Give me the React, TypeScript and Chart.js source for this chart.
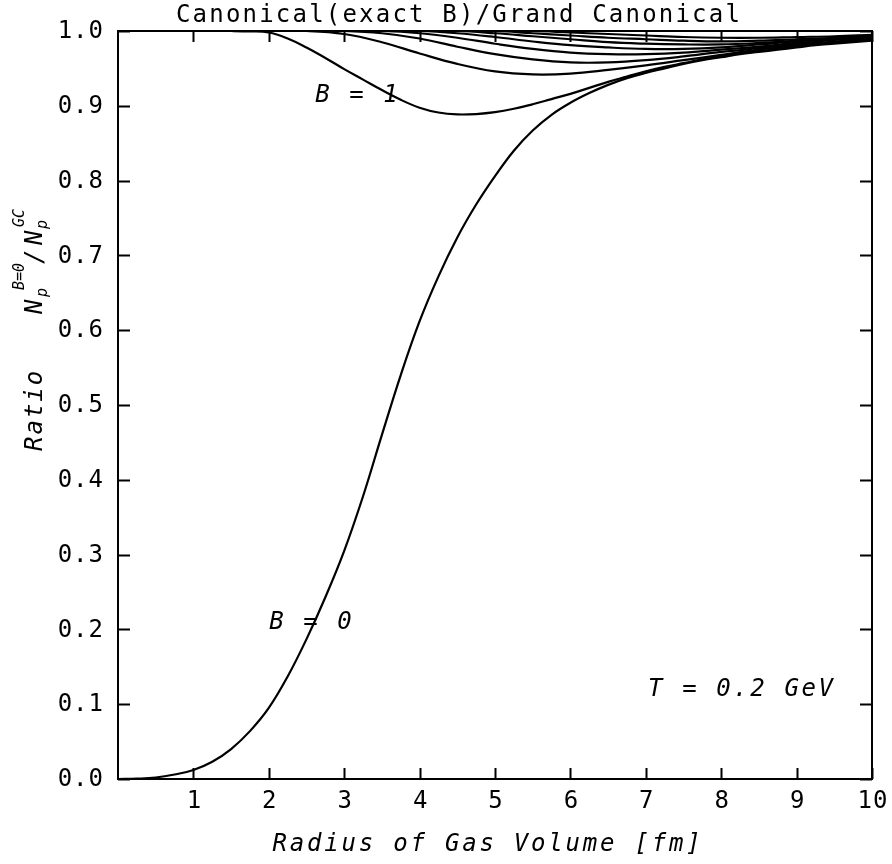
import React, { useEffect, useRef } from "react";
import { Chart, registerables } from "chart.js";

Chart.register(...registerables);

// ---- data ----
const radius = [0, 0.5, 1, 1.5, 2, 2.5, 3, 3.5, 4, 4.5, 5, 5.5, 6, 6.5, 7, 7.5, 8, 8.5, 9, 9.5, 10];
const radiusFine = [
  0, 0.25, 0.5, 0.75, 1, 1.25, 1.5, 1.75, 2, 2.25, 2.5, 2.75, 3, 3.25, 3.5, 3.75, 4, 4.25, 4.5, 4.75,
  5, 5.25, 5.5, 5.75, 6, 6.25, 6.5, 6.75, 7, 7.25, 7.5, 7.75, 8, 8.25, 8.5, 8.75, 9, 9.25, 9.5, 9.75, 10,
];

const ratioB0 = [
  0, 0.0005, 0.002, 0.006, 0.012, 0.023, 0.04, 0.064, 0.095, 0.137, 0.187, 0.243, 0.305, 0.378, 0.46, 0.54, 0.612, 0.672, 0.724, 0.768,
  0.806, 0.84, 0.867, 0.888, 0.904, 0.917, 0.928, 0.937, 0.944, 0.95, 0.956, 0.961, 0.965, 0.969, 0.972, 0.975, 0.978, 0.981, 0.983, 0.985, 0.987,
];
const ratioB1 = [
  1, 1, 1, 1, 1, 1, 1, 0.9995, 0.998, 0.99, 0.978, 0.964, 0.949, 0.935, 0.921, 0.908, 0.8975, 0.891, 0.8885, 0.889,
  0.8915, 0.896, 0.902, 0.909, 0.916, 0.924, 0.932, 0.939, 0.946, 0.952, 0.957, 0.962, 0.966, 0.97, 0.973, 0.976, 0.979, 0.982, 0.984, 0.986, 0.988,
];
const ratioB2 = [1, 1, 1, 1, 1, 1, 0.996, 0.985, 0.97, 0.956, 0.946, 0.942, 0.943, 0.948, 0.954, 0.961, 0.968, 0.975, 0.98, 0.985, 0.989];
const ratioB3 = [1, 1, 1, 1, 1, 1, 1, 0.997, 0.99, 0.979, 0.969, 0.962, 0.958, 0.958, 0.961, 0.966, 0.972, 0.977, 0.982, 0.986, 0.99];
const ratioB4 = [1, 1, 1, 1, 1, 1, 1, 1, 0.997, 0.991, 0.983, 0.976, 0.971, 0.969, 0.969, 0.971, 0.975, 0.979, 0.984, 0.988, 0.991];
const ratioB5 = [1, 1, 1, 1, 1, 1, 1, 1, 1, 0.997, 0.992, 0.986, 0.981, 0.978, 0.976, 0.976, 0.978, 0.982, 0.986, 0.989, 0.992];
const ratioB6 = [1, 1, 1, 1, 1, 1, 1, 1, 1, 1, 0.997, 0.993, 0.989, 0.985, 0.983, 0.982, 0.982, 0.984, 0.987, 0.99, 0.993];
const ratioB7 = [1, 1, 1, 1, 1, 1, 1, 1, 1, 1, 1, 0.997, 0.994, 0.991, 0.989, 0.987, 0.986, 0.987, 0.989, 0.991, 0.994];
const ratioB8 = [1, 1, 1, 1, 1, 1, 1, 1, 1, 1, 1, 1, 0.998, 0.996, 0.994, 0.992, 0.991, 0.991, 0.992, 0.993, 0.995];

const seriesList: [number[], number[]][] = [
  [radiusFine, ratioB0],
  [radiusFine, ratioB1],
  [radius, ratioB2],
  [radius, ratioB3],
  [radius, ratioB4],
  [radius, ratioB5],
  [radius, ratioB6],
  [radius, ratioB7],
  [radius, ratioB8],
];

const xTickValues = [1, 2, 3, 4, 5, 6, 7, 8, 9, 10];
const yTickValues = [0, 0.1, 0.2, 0.3, 0.4, 0.5, 0.6, 0.7, 0.8, 0.9, 1.0];
const yTickLabels = ["0.0", "0.1", "0.2", "0.3", "0.4", "0.5", "0.6", "0.7", "0.8", "0.9", "1.0"];

const titleText = "Canonical(exact B)/Grand Canonical";
const xTitleText = "Radius of Gas Volume [fm]";
const yTitleWord = "Ratio";

// annotations: [text, x value, y value, align]
const annotations: [string, number, number, CanvasTextAlign][] = [
  ["B = 1", 3.18, 0.914, "center"],
  ["B = 0", 2.57, 0.209, "center"],
  ["T = 0.2 GeV", 7.03, 0.119, "left"],
];

const MONO = '"DejaVu Sans Mono", monospace';

const framePlugin = {
  id: "framePlugin",
  afterDraw(chart: any) {
    const ctx: CanvasRenderingContext2D = chart.ctx;
    const a = chart.chartArea;
    const xs = chart.scales.x;
    const ys = chart.scales.y;
    ctx.save();
    ctx.strokeStyle = "#000";
    ctx.fillStyle = "#000";
    ctx.lineWidth = 2;
    ctx.strokeRect(a.left, a.top, a.right - a.left, a.bottom - a.top);

    ctx.beginPath();
    for (const v of xTickValues) {
      const px = Math.round(xs.getPixelForValue(v)) + 0.5;
      ctx.moveTo(px, a.bottom);
      ctx.lineTo(px, a.bottom - 11);
      ctx.moveTo(px, a.top);
      ctx.lineTo(px, a.top + 11);
    }
    for (const v of yTickValues) {
      const py = Math.round(ys.getPixelForValue(v)) + 0.5;
      ctx.moveTo(a.left, py);
      ctx.lineTo(a.left + 12, py);
      ctx.moveTo(a.right, py);
      ctx.lineTo(a.right - 12, py);
    }
    ctx.stroke();

    // tick labels
    (ctx as any).letterSpacing = "1px";
    ctx.font = `24px ${MONO}`;
    ctx.textBaseline = "middle";
    ctx.textAlign = "right";
    yTickValues.forEach((v, i) => {
      ctx.fillText(yTickLabels[i], a.left - 14, ys.getPixelForValue(v) + 1);
    });
    ctx.textAlign = "center";
    xTickValues.forEach((v) => {
      ctx.fillText(String(v), xs.getPixelForValue(v) + 1, a.bottom + 23);
    });

    // title
    (ctx as any).letterSpacing = "2.2px";
    ctx.textBaseline = "alphabetic";
    ctx.textAlign = "center";
    ctx.fillText(titleText, 459, 22);

    // x title
    ctx.font = `italic 24px ${MONO}`;
    (ctx as any).letterSpacing = "2.8px";
    ctx.fillText(xTitleText, 488, 851);

    // annotations
    (ctx as any).letterSpacing = "2.6px";
    for (const [t, vx, vy, al] of annotations) {
      ctx.textAlign = al;
      ctx.textBaseline = "middle";
      ctx.fillText(t, xs.getPixelForValue(vx), ys.getPixelForValue(vy));
    }

    // y title (rotated)
    ctx.save();
    ctx.translate(42, 451);
    ctx.rotate(-Math.PI / 2);
    ctx.textAlign = "left";
    ctx.textBaseline = "alphabetic";
    ctx.font = `italic 24px ${MONO}`;
    (ctx as any).letterSpacing = "2px";
    ctx.fillText(yTitleWord, 0, 0);
    (ctx as any).letterSpacing = "0px";
    ctx.fillText("N", 137, 0);
    ctx.font = `italic 15px ${MONO}`;
    ctx.fillText("B=0", 161, -18);
    ctx.fillText("p", 154, 5);
    ctx.font = `italic 24px ${MONO}`;
    ctx.fillText("/", 187, 0);
    ctx.fillText("N", 206, 0);
    ctx.font = `italic 15px ${MONO}`;
    ctx.fillText("GC", 224, -18);
    ctx.fillText("p", 222, 5);
    ctx.restore();

    ctx.restore();
  },
};

export default function App() {
  const canvasRef = useRef<HTMLCanvasElement | null>(null);

  useEffect(() => {
    const canvas = canvasRef.current;
    if (!canvas) return;
    const chart = new Chart(canvas, {
      type: "line",
      data: {
        datasets: seriesList.map(([xsv, s], i) => ({
          label: `B = ${i}`,
          data: xsv.map((r, j) => ({ x: r, y: s[j] })),
          borderColor: "#000",
          borderWidth: 2.2,
          pointRadius: 0,
          fill: false,
          tension: 0.4,
          cubicInterpolationMode: "default" as const,
        })),
      },
      options: {
        responsive: false,
        animation: false,
        layout: { padding: { left: 118, right: 892 - 872, top: 31, bottom: 864 - 779 } },
        plugins: {
          legend: { display: false },
          tooltip: { enabled: false },
          title: { display: false },
        },
        scales: {
          x: { type: "linear", min: 0, max: 10, display: false },
          y: { type: "linear", min: 0, max: 1, display: false },
        },
      },
      plugins: [framePlugin],
    });
    return () => chart.destroy();
  }, []);

  return (
    <div style={{ position: "fixed", left: 0, top: 0, width: 892, height: 864, background: "#fff" }}>
      <canvas ref={canvasRef} width={892} height={864} />
    </div>
  );
}
